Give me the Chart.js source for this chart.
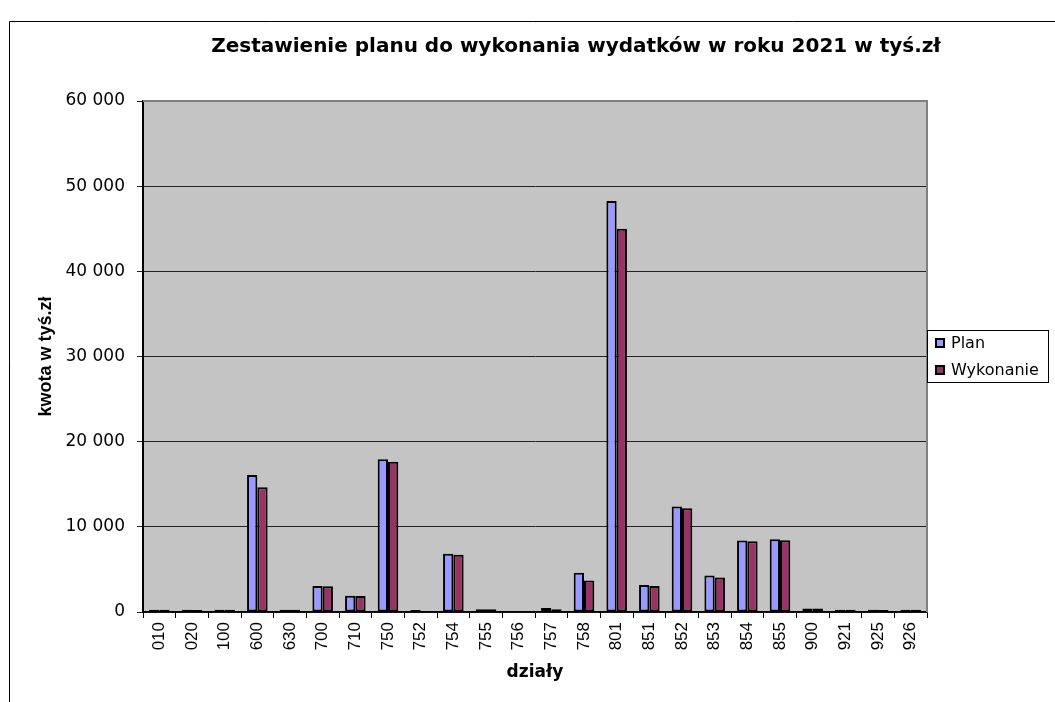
<!DOCTYPE html>
<html><head><meta charset="utf-8">
<script src="https://cdn.jsdelivr.net/npm/chart.js@4.4.1/dist/chart.umd.min.js"></script>
<style>html,body{margin:0;padding:0;background:#fff;overflow:hidden}#wrap{width:1055px;height:702px;position:relative}</style>
</head><body><div id="wrap"><canvas id="c" width="1055" height="702"></canvas></div>
<script>
const titleText = 'Zestawienie planu do wykonania wydatków w roku 2021 w tyś.zł';
const xAxisTitle = 'działy';
const yAxisTitle = 'kwota w tyś.zł';
const seriesNames = ['Plan', 'Wykonanie'];
const categories = ['010','020','100','600','630','700','710','750','752','754','755','756','757','758','801','851','852','853','854','855','900','921','925','926'];
const planValues = [260,250,270,16100,260,3050,1900,17950,240,6850,330,0,460,4600,48250,3170,12380,4280,8390,8550,420,260,250,260];
const wykonanieValues = [250,240,260,14650,250,3020,1890,17650,0,6730,320,0,330,3700,45000,3050,12180,4050,8310,8430,400,250,240,250];
const yTickValues = [0,10000,20000,30000,40000,50000,60000];
const seriesColors = ['#9999FF', '#993366'];

function fmt(v){ return String(v).replace(/\B(?=(\d{3})+(?!\d))/g, ' '); }

const decor = {
  id: 'decor',
  beforeDraw(chart){
    const {ctx, chartArea:a} = chart;
    ctx.save();
    ctx.fillStyle = '#fff';
    ctx.fillRect(0,0,chart.width,chart.height);
    ctx.fillStyle = '#C4C4C4';
    ctx.fillRect(a.left, a.top, a.right-a.left, a.bottom-a.top);
    ctx.restore();
  },
  afterDraw(chart){
    const {ctx, chartArea:a} = chart;
    ctx.save();
    ctx.strokeStyle = '#808080'; ctx.lineWidth = 2;
    ctx.beginPath(); ctx.moveTo(a.left, a.top); ctx.lineTo(a.right, a.top); ctx.lineTo(a.right, a.bottom); ctx.stroke();
    ctx.strokeStyle = '#000'; ctx.lineWidth = 1;
    ctx.beginPath(); ctx.moveTo(9.5, chart.height); ctx.lineTo(9.5, 21.5); ctx.lineTo(chart.width, 21.5); ctx.stroke();
    ctx.fillStyle = '#000';
    ctx.font = 'bold 20px "DejaVu Sans"';
    ctx.textAlign = 'center'; ctx.textBaseline = 'middle';
    ctx.fillText(titleText, 576, 47);
    const lx = a.right, ly = 330, lw = 122, lh = 53;
    ctx.fillStyle = '#fff'; ctx.fillRect(lx, ly, lw, lh);
    ctx.strokeStyle = '#000'; ctx.lineWidth = 1; ctx.strokeRect(lx+0.5, ly+0.5, lw-1, lh-1);
    ctx.font = '16px "DejaVu Sans"'; ctx.textAlign = 'left';
    chart.data.datasets.forEach((ds, i) => {
      const yc = ly + 13 + i*27;
      ctx.fillStyle = ds.backgroundColor; ctx.fillRect(lx+9, yc-4, 8, 8);
      ctx.strokeStyle = '#000'; ctx.lineWidth = 2; ctx.strokeRect(lx+9, yc-4, 8, 8);
      ctx.fillStyle = '#000'; ctx.fillText(ds.label, lx+24, yc+1);
    });
    ctx.restore();
  }
};

new Chart(document.getElementById('c'), {
  type: 'bar',
  data: {
    labels: categories,
    datasets: [
      {label: seriesNames[0], data: planValues, backgroundColor: seriesColors[0], borderColor: '#000', borderWidth: 2, borderSkipped: false, categoryPercentage: 0.63, barPercentage: 1},
      {label: seriesNames[1], data: wykonanieValues, backgroundColor: seriesColors[1], borderColor: '#000', borderWidth: 2, borderSkipped: false, categoryPercentage: 0.63, barPercentage: 1}
    ]
  },
  options: {
    responsive: false, animation: false, devicePixelRatio: 1,
    layout: {padding: {left: 0, top: 101, right: 128, bottom: 0}},
    plugins: {legend: {display: false}, title: {display: false}, tooltip: {enabled: false}},
    scales: {
      x: {
        offset: true,
        grid: {offset: true, drawOnChartArea: false, drawTicks: true, tickLength: 6, color: '#000', lineWidth: 1},
        border: {color: '#000', width: 1.5},
        ticks: {minRotation: 90, maxRotation: 90, autoSkip: false, padding: 4, color: '#000', font: {family: 'Liberation Sans', size: 17}},
        title: {display: true, text: xAxisTitle, color: '#000', font: {family: 'DejaVu Sans', size: 17, weight: 'bold'}, padding: {top: 0, bottom: 19}},
        afterFit(s){ s.height = 90; }
      },
      y: {
        min: 0, max: 60000,
        afterBuildTicks(s){ s.ticks = yTickValues.map(v => ({value: v})); },
        ticks: {callback: v => fmt(v), padding: 12, color: '#000', font: {family: 'DejaVu Sans', size: 17}},
        grid: {color: '#222', lineWidth: 1, tickLength: 6},
        border: {color: '#000', width: 2},
        title: {display: true, text: yAxisTitle, color: '#000', font: {family: 'Liberation Sans', size: 18, weight: 'bold'}, padding: {top: 35, bottom: 0}},
        afterFit(s){ s.width = 143; }
      }
    }
  },
  plugins: [decor]
});
</script></body></html>
